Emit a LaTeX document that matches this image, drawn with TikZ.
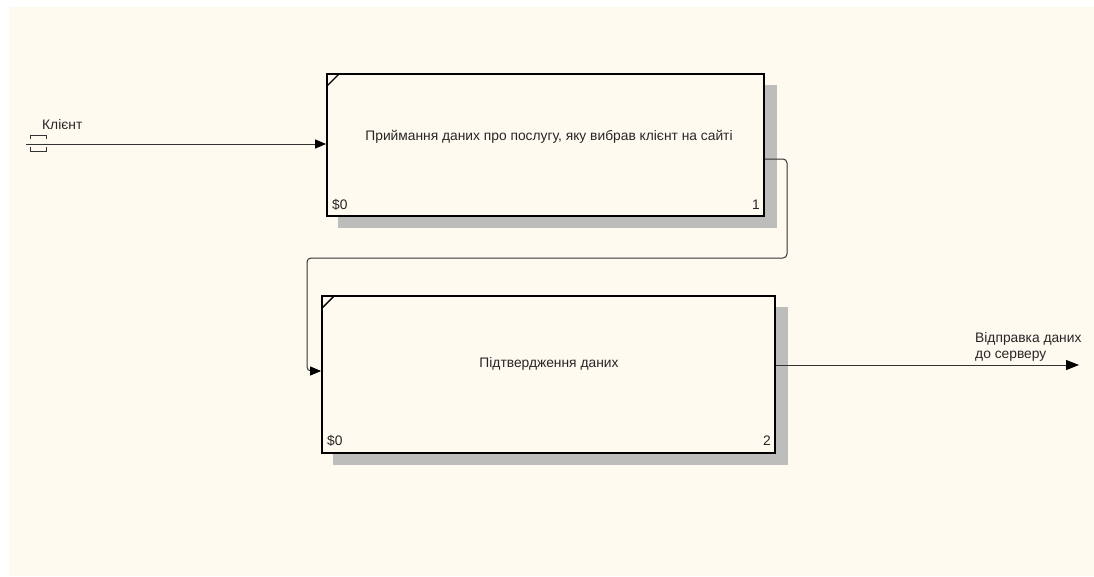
\documentclass[tikz,border=0pt]{standalone}
\usepackage{fontspec}
\setmainfont{Liberation Sans}
\usetikzlibrary{arrows.meta}
\definecolor{cream}{HTML}{FFFAF0}
\definecolor{shade}{HTML}{BDBDBB}
\definecolor{linec}{HTML}{333333}
\begin{document}
\begin{tikzpicture}[x=1pt,y=-1pt,
  fnt/.style={font=\fontsize{13.8}{16.5}\selectfont, text=black!85, inner sep=0pt},
  actbox/.style={draw=black, line width=1.8pt, fill=cream, rectangle, inner sep=0pt},
  shadowbox/.style={fill=shade, draw=none},
  flow/.style={draw=linec, line width=1pt, -{Triangle[length=11pt,width=9pt,color=black]}},
  tick/.style={draw=black, line width=1.4pt}]
\useasboundingbox (0,0) rectangle (1094,576);
\fill[white] (0,0) rectangle (1094,576);
\fill[cream] (9,7) rectangle (1094,576);

% box 1
\fill[shadowbox] (338,85) rectangle (777,228);
\node[actbox, minimum width=437pt, minimum height=142pt] (b1) at (545.5,145) {};
\draw[tick] (327,86) -- (339,74);
\node[fnt] (t1) at (549,137) {Приймання даних про послугу, яку вибрав клієнт на сайті};
\node[fnt, anchor=west] (c1) at (332,205) {\$0};
\node[fnt, anchor=east] (n1) at (760,205) {1};

% box 2
\fill[shadowbox] (333,307) rectangle (788,465);
\node[actbox, minimum width=453pt, minimum height=157pt] (b2) at (548.5,374.5) {};
\draw[tick] (322,308) -- (334,296);
\node[fnt] (t2) at (549,364) {Підтвердження даних};
\node[fnt, anchor=west] (c2) at (327,441) {\$0};
\node[fnt, anchor=east] (n2) at (771,441) {2};

% input arrow
\coordinate (cin) at (26,144);
\draw[flow] (cin) -- (b1.west |- cin);
\draw[draw=linec, line width=0.9pt] (30,139) -- (30,135.5) -- (46,135.5) -- (46,139);
\draw[draw=linec, line width=0.9pt] (30,147) -- (30,151.5) -- (46,151.5) -- (46,147);
\node[fnt, anchor=west] (lin) at (42,125) {Клієнт};

% connecting arrow
\coordinate (o1) at (b1.east |- 0,159);
\coordinate (i2) at (b2.west |- 0,371);
\draw[flow, rounded corners=4pt] (o1) -- (787,159) -- (787,258) -- (307,258) -- (307,371) -- (i2);

% output arrow
\coordinate (o2) at (b2.east |- 0,365);
\coordinate (cout) at (1079,365);
\draw[flow, -{Triangle[length=13pt,width=10pt,color=black]}] (o2) -- (cout);
\node[fnt, anchor=west, align=left] (lout) at (975,347) {Відправка даних\\до серверу};
\end{tikzpicture}
\end{document}
